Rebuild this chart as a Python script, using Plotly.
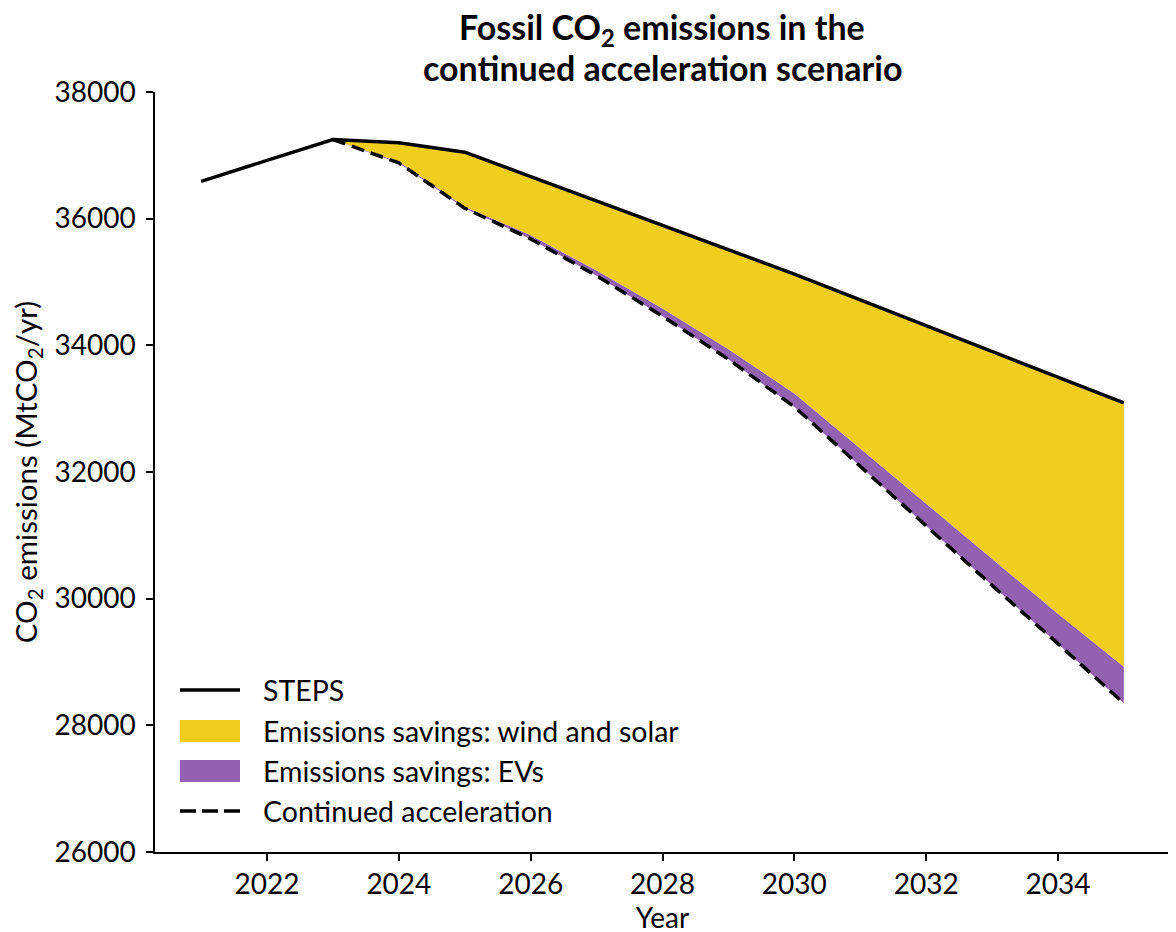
import plotly.graph_objects as go

years_steps = [2021, 2022, 2023, 2024, 2025, 2026, 2027, 2028, 2029, 2030, 2031, 2032, 2033, 2034, 2035]
steps = [36590, 36920, 37250, 37200, 37050, 36665, 36280, 35895, 35510, 35125, 34718, 34311, 33904, 33497, 33090]

years_acc = [2023, 2024, 2025, 2026, 2027, 2028, 2029, 2030, 2031, 2032, 2033, 2034, 2035]
steps_after = [37250, 37200, 37050, 36665, 36280, 35895, 35510, 35125, 34718, 34311, 33904, 33497, 33090]
after_wind_solar = [37250, 36900, 36190, 35740, 35180, 34580, 33940, 33240, 32370, 31500, 30630, 29760, 28926]
continued_acc = [37250, 36880, 36165, 35680, 35100, 34460, 33780, 33030, 32090, 31150, 30210, 29290, 28347]

legend_labels = ["STEPS", "Emissions savings: wind and solar", "Emissions savings: EVs", "Continued acceleration"]
title_lines = ["<b>Fossil CO<sub>2</sub> emissions in the</b>", "<b>continued acceleration scenario</b>"]

YELLOW = "#f0ce1e"
PURPLE = "#9461b0"
FONT = "Lato"

fig = go.Figure()
fig.add_trace(go.Scatter(x=years_acc, y=continued_acc, mode="lines", line=dict(width=0, color=PURPLE),
                         showlegend=False, hoverinfo="skip"))
fig.add_trace(go.Scatter(x=years_acc, y=after_wind_solar, mode="lines", line=dict(width=0, color=PURPLE),
                         fill="tonexty", fillcolor=PURPLE, name=legend_labels[2], showlegend=False))
fig.add_trace(go.Scatter(x=years_acc, y=steps_after, mode="lines", line=dict(width=0, color=YELLOW),
                         fill="tonexty", fillcolor=YELLOW, name=legend_labels[1], showlegend=False))
fig.add_trace(go.Scatter(x=years_steps, y=steps, mode="lines", line=dict(width=3.5, color="black"),
                         name=legend_labels[0], showlegend=False))
fig.add_trace(go.Scatter(x=years_acc, y=continued_acc, mode="lines",
                         line=dict(width=3.5, color="black", dash="13px,7px"),
                         name=legend_labels[3], showlegend=False))

# page body margin offset (px) and plot area in screen pixels
OFF = 8
L, R, T, B = 155 - OFF, 1170 - OFF, 92 - OFF, 852 - OFF
def px(xs):
    return (xs - OFF - L) / (R - L)
def py(ys):
    return (B - (ys - OFF)) / (B - T)

# custom legend (layout, paper coordinates)
rows = [690, 731, 771, 811]
sx0, sx1, tx = 180, 240, 263
shapes = [
    dict(type="line", xref="paper", yref="paper", x0=px(sx0), x1=px(sx1), y0=py(rows[0]), y1=py(rows[0]),
         line=dict(color="black", width=3.5)),
    dict(type="rect", xref="paper", yref="paper", x0=px(sx0), x1=px(sx1), y0=py(rows[1] - 11), y1=py(rows[1] + 11),
         line=dict(width=0), fillcolor=YELLOW),
    dict(type="rect", xref="paper", yref="paper", x0=px(sx0), x1=px(sx1), y0=py(rows[2] - 11), y1=py(rows[2] + 11),
         line=dict(width=0), fillcolor=PURPLE),
    dict(type="line", xref="paper", yref="paper", x0=px(sx0), x1=px(sx1), y0=py(rows[3]), y1=py(rows[3]),
         line=dict(color="black", width=3.5, dash="16px,6px")),
]
annotations = []
for lab, r in zip(legend_labels, rows):
    annotations.append(dict(text=lab, xref="paper", yref="paper", x=px(tx - 2), y=py(r), xanchor="left", yanchor="middle",
                            showarrow=False, font=dict(family=FONT, size=28.5, color="black")))
# title, two lines
for line, yc in zip(title_lines, [29, 68]):
    annotations.append(dict(text=line, xref="paper", yref="paper", x=px(662), y=py(yc), xanchor="center",
                            yanchor="middle", showarrow=False, font=dict(family=FONT, size=34, color="black")))

fig.update_layout(
    width=1176, height=932,
    margin=dict(l=L, r=1176 - R, t=T, b=932 - B, autoexpand=False),
    paper_bgcolor="white", plot_bgcolor="white",
    font=dict(family=FONT, size=28, color="black"),
    shapes=shapes, annotations=annotations,
    showlegend=False,
)
fig.update_xaxes(range=[2020.3, 2035.7], tickvals=[2022, 2024, 2026, 2028, 2030, 2032, 2034],
                 ticks="outside", ticklen=7, tickwidth=1.5, tickcolor="black", automargin=False,
                 showline=True, linewidth=1.5, linecolor="black", showgrid=False, zeroline=False,
                 ticklabelstandoff=0,
                 tickfont=dict(family=FONT, size=28), title=dict(text="Year", font=dict(family=FONT, size=28), standoff=7))
fig.update_yaxes(range=[26000, 38000], dtick=2000, tickformat="d",
                 ticks="outside", ticklen=7, tickwidth=1.5, tickcolor="black", automargin=False,
                 showline=True, linewidth=1.5, linecolor="black", showgrid=False, zeroline=False,
                 ticklabelstandoff=5,
                 tickfont=dict(family=FONT, size=28),
                 title=dict(text="CO<sub>2</sub> emissions (MtCO<sub>2</sub>/yr)", font=dict(family=FONT, size=29.5), standoff=20))

fig.write_html("out.html")
